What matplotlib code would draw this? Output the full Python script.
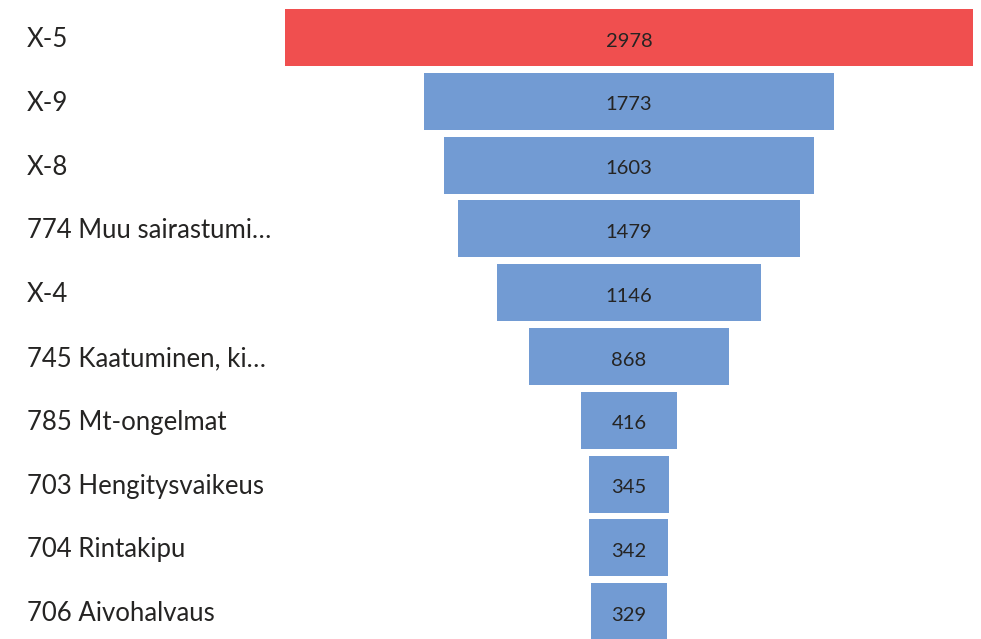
import matplotlib
matplotlib.use("Agg")
import matplotlib.pyplot as plt

plt.rcParams['font.family'] = ['Lato', 'DejaVu Sans']

# funnel data
categories = ["X-5", "X-9", "X-8", "774 Muu sairastumi…", "X-4",
              "745 Kaatuminen, ki…", "785 Mt-ongelmat", "703 Hengitysvaikeus",
              "704 Rintakipu", "706 Aivohalvaus"]
values = [2978, 1773, 1603, 1479, 1146, 868, 416, 345, 342, 329]
colors = ["#F04F4F"] + ["#729BD3"] * 9

fig = plt.figure(figsize=(9.81, 6.39), dpi=100)
ax = fig.add_axes([0, 0, 1, 1])

lefts = [-v / 2 for v in values]
ax.barh(range(len(values)), values, left=lefts, height=0.893, color=colors)

for i, v in enumerate(values):
    ax.text(0, i + 0.144, str(v), ha="center", va="baseline", fontsize=14.5, color="#252423")
    # category label on the left
    ax.text(27 / 981, i + 0.15, categories[i], transform=ax.get_yaxis_transform(),
            ha="left", va="baseline", fontsize=18.5, color="#252423")

ax.set_xlim(-2723, 1524)
ax.set_ylim(9.428, -0.588)
ax.axis("off")

plt.savefig("out.png", dpi=100)
